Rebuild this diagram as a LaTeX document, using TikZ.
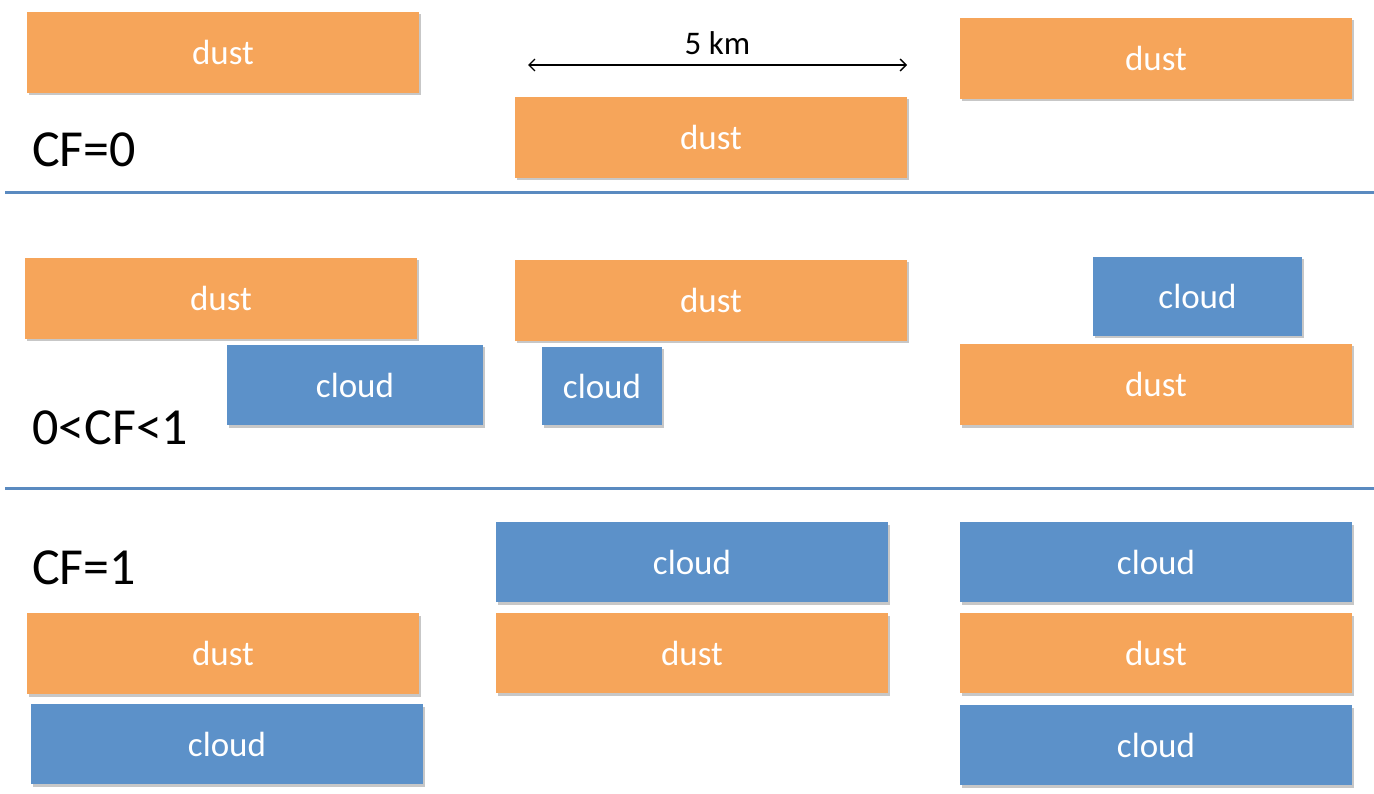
\documentclass[tikz,border=0pt]{standalone}
\usepackage{fontspec}
\setmainfont{Carlito}
\usetikzlibrary{arrows.meta,shadows}
\definecolor{dustc}{HTML}{F6A55A}
\definecolor{cloudc}{HTML}{5C91C9}
\definecolor{sepc}{HTML}{5A8AC0}
\tikzset{
  layer/.style={rectangle, inner sep=0pt, text=white, font=\fontsize{35}{37}\selectfont,
    drop shadow={shadow xshift=1.5pt, shadow yshift=-2.5pt, opacity=0.22, fill=black}},
  dustbox/.style={layer, fill=dustc, minimum width=392pt, minimum height=81pt},
  cloudbox/.style={layer, fill=cloudc, minimum height=80pt},
  cflabel/.style={anchor=west, inner sep=0pt, font=\fontsize{52}{54}\selectfont},
  sepline/.style={draw=sepc, line width=3pt}
}
\begin{document}
\begin{tikzpicture}[x=1pt, y=-1pt]
\useasboundingbox (0,0) rectangle (1374,794);

% CF = 0
\node[dustbox] (d1) at (223,52.5) {dust};
\node[dustbox] (d2) at (711,137.5) {dust};
\node[dustbox] (d3) at (1156,58.5) {dust};
\coordinate (wl) at (528,65);
\coordinate (wr) at (907,65);
\draw[line width=1.3pt, {Straight Barb[length=6pt,width=12pt]}-{Straight Barb[length=6pt,width=12pt]}] (wl) -- (wr)
  node[midway, above=6pt, font=\fontsize{33}{35}\selectfont] (km) {5 km};
\node[cflabel] (cf0) at (32,150) {CF=0};
\coordinate (s1a) at (5,193);
\coordinate (s1b) at (1374,193);
\draw[sepline] (s1a) -- (s1b);

% 0 < CF < 1
\node[dustbox] (d4) at (221,298.5) {dust};
\node[dustbox] (d5) at (711,300.5) {dust};
\node[cloudbox, minimum width=209pt, minimum height=79pt] (c1) at (1197.5,296.5) {cloud};
\node[cloudbox, minimum width=256pt] (c2) at (355,385) {cloud};
\node[cloudbox, minimum width=120pt, minimum height=78pt] (c3) at (602,386) {cloud};
\node[dustbox] (d6) at (1156,384.5) {dust};
\node[cflabel] (cf1) at (32,428) {0<CF<1};
\coordinate (s2a) at (5,488);
\coordinate (s2b) at (1374,488);
\draw[sepline] (s2a) -- (s2b);

% CF = 1
\node[cflabel] (cf2) at (32,568) {CF=1};
\node[dustbox] (d9) at (223,653.5) {dust};
\node[cloudbox, minimum width=392pt] (c7) at (227,744) {cloud};
\node[cloudbox, minimum width=392pt] (c4) at (692,562) {cloud};
\node[dustbox, minimum height=80pt] (d7) at (692,653) {dust};
\node[cloudbox, minimum width=392pt] (c5) at (1156,562) {cloud};
\node[dustbox, minimum height=80pt] (d8) at (1156,653) {dust};
\node[cloudbox, minimum width=392pt] (c6) at (1156,745) {cloud};
\end{tikzpicture}
\end{document}
